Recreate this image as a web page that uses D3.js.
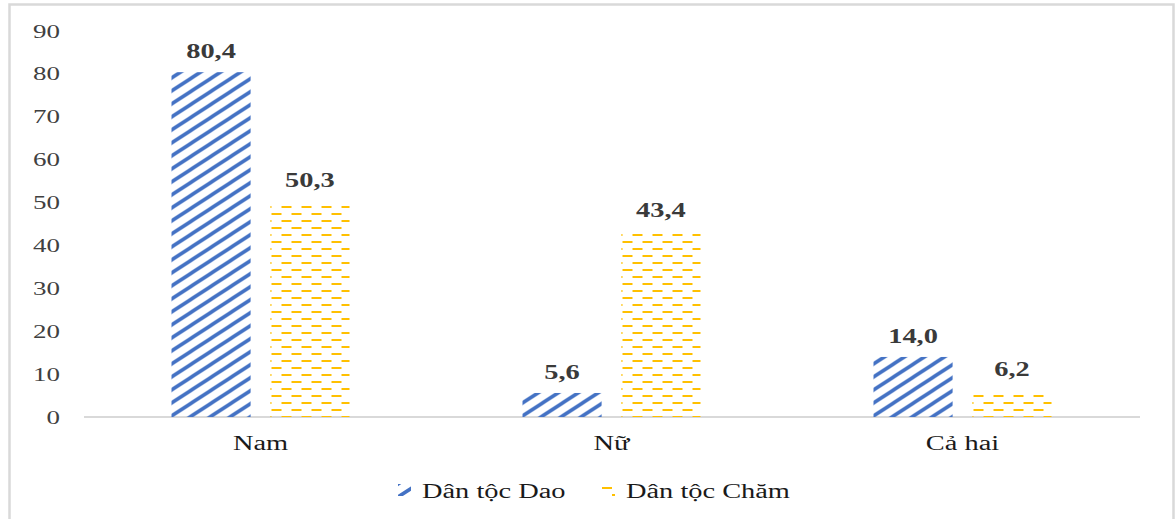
<!DOCTYPE html>
<html>
<head>
<meta charset="utf-8">
<script src="https://cdn.jsdelivr.net/npm/d3@7"></script>
<style>
  html, body { margin: 0; padding: 0; background: #fff; }
  svg { display: block; }
</style>
</head>
<body>
<svg id="chart" width="1176" height="519"></svg>
<script>
const categories = ["Nam", "Nữ", "Cả hai"];
const seriesNames = ["Dân tộc Dao", "Dân tộc Chăm"];
const daoValues = [80.4, 5.6, 14.0];
const chamValues = [50.3, 43.4, 6.2];
const yTicks = [0, 10, 20, 30, 40, 50, 60, 70, 80, 90];

const width = 1176;
const height = 519;
const serif = "'Liberation Serif', 'Times New Roman', serif";
const sx = 1.42; // the picture is stretched sideways

const svg = d3.select("#chart");

// frame
svg.append("rect")
  .attr("x", 9.5).attr("y", 4.5)
  .attr("width", 1164).attr("height", height + 10)
  .attr("fill", "none")
  .attr("stroke", "#d9d9d9")
  .attr("stroke-width", 2.5);

// patterns
const defs = svg.append("defs");
const diag = defs.append("pattern")
  .attr("id", "pat-dao")
  .attr("patternUnits", "userSpaceOnUse")
  .attr("width", 20).attr("height", 13);
diag.append("path")
  .attr("d", "M-10,19.5 L30,-6.5 M-10,6.5 L10,-6.5 M10,19.5 L30,6.5")
  .attr("stroke", "#4472c4")
  .attr("stroke-width", 3.6)
  .attr("fill", "none");

const dash = defs.append("pattern")
  .attr("id", "pat-cham")
  .attr("patternUnits", "userSpaceOnUse")
  .attr("width", 20).attr("height", 14);
dash.append("path")
  .attr("d", "M0,4 H10 M10,11 H20")
  .attr("stroke", "#ffc000")
  .attr("stroke-width", 2)
  .attr("fill", "none");

const fills = ["url(#pat-dao)", "url(#pat-cham)"];

// scales
const y = d3.scaleLinear().domain([0, 90]).range([417, 31]);
const x0 = d3.scaleBand().domain(categories).range([85, 1138]);
const groupW = 178;
const x1 = d3.scaleBand().domain(seriesNames).range([0, groupW]).paddingInner(0.2);
const groupOff = (x0.bandwidth() - groupW) / 2;

const rows = categories.map((c, i) => ({
  cat: c,
  vals: [
    { name: seriesNames[0], value: daoValues[i] },
    { name: seriesNames[1], value: chamValues[i] }
  ]
}));

// y axis
const yAxis = svg.append("g")
  .attr("transform", "translate(70,0)")
  .call(d3.axisLeft(y).tickValues(yTicks).tickSize(0).tickPadding(7));
yAxis.select(".domain").remove();
yAxis.selectAll("text")
  .attr("font-family", serif)
  .attr("font-size", 19)
  .attr("fill", "#404040")
  .attr("transform", `scale(${sx},1)`)
  .attr("x", -7);

// x axis
const xAxis = svg.append("g")
  .attr("transform", "translate(0,417)")
  .call(d3.axisBottom(x0).tickSize(0).tickSizeOuter(0).tickPadding(19));
xAxis.select(".domain")
  .attr("stroke", "#d9d9d9")
  .attr("stroke-width", 2)
  .attr("d", "M84,0H1140");
xAxis.selectAll("text")
  .attr("font-family", serif)
  .attr("font-size", 20)
  .attr("fill", "#1a1a1a")
  .attr("transform", `scale(${sx},1)`);

// bars
const groups = svg.append("g").selectAll("g")
  .data(rows)
  .join("g")
  .attr("transform", d => `translate(${x0(d.cat) + groupOff},0)`);

groups.selectAll("rect")
  .data(d => d.vals)
  .join("rect")
  .attr("x", d => x1(d.name))
  .attr("y", d => y(d.value))
  .attr("width", x1.bandwidth())
  .attr("height", d => y(0) - y(d.value))
  .attr("fill", (d, i) => fills[i]);

const fmt = v => d3.format(".1f")(v).replace(".", ",");

groups.selectAll("text")
  .data(d => d.vals)
  .join("text")
  .attr("transform", d => `translate(${x1(d.name) + x1.bandwidth() / 2},${y(d.value) - 14}) scale(${sx},1)`)
  .attr("text-anchor", "middle")
  .attr("font-family", serif)
  .attr("font-weight", "bold")
  .attr("font-size", 20)
  .attr("fill", "#3a3a3a")
  .text(d => fmt(d.value));

// legend
const legendX = [398, 602];
const legend = svg.append("g").selectAll("g")
  .data(seriesNames)
  .join("g")
  .attr("transform", (d, i) => `translate(${legendX[i]},484)`);

legend.append("rect")
  .attr("width", 13).attr("height", 12)
  .attr("fill", (d, i) => fills[i]);

legend.append("text")
  .attr("transform", `translate(24,14) scale(${sx},1)`)
  .attr("font-family", serif)
  .attr("font-size", 20)
  .attr("fill", "#1a1a1a")
  .text(d => d);
</script>
</body>
</html>
